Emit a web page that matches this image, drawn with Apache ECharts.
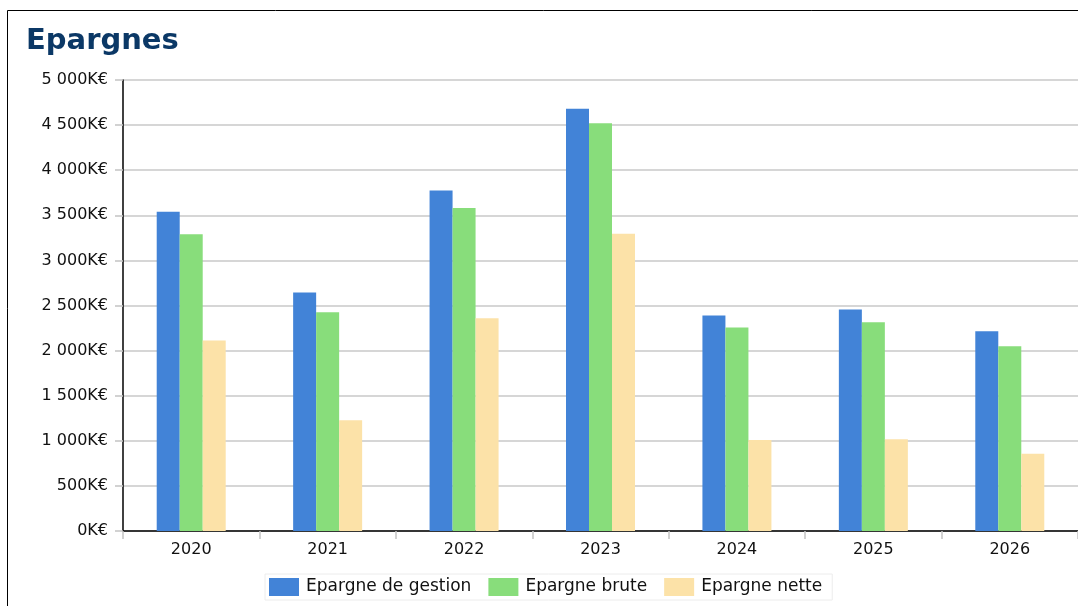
<!DOCTYPE html>
<html>
<head>
<meta charset="utf-8">
<script src="https://cdn.jsdelivr.net/npm/echarts@6/dist/echarts.min.js"></script>
<style>
  html, body { margin: 0; padding: 0; background: #fff; }
  #chart { width: 1078px; height: 606px; }
</style>
</head>
<body>
<div id="chart"></div>
<script>
// Savings by year, in thousands of euros
const years = ['2020', '2021', '2022', '2023', '2024', '2025', '2026'];
const epargneGestion = [3540, 2645, 3775, 4680, 2390, 2455, 2215];
const epargneBrute   = [3290, 2425, 3580, 4520, 2255, 2315, 2048];
const epargneNette   = [2112, 1227, 2360, 3296, 1010, 1016, 857];
const seriesNames = ['Epargne de gestion', 'Epargne brute', 'Epargne nette'];
const seriesColors = ['#4283d7', '#88dd7b', '#fce2a8'];

const fmtK = v => String(v).replace(/\B(?=(\d{3})+(?!\d))/g, ' ') + 'K€';

const chart = echarts.init(document.getElementById('chart'));

const makeBar = (name, data, color) => ({
  name, type: 'bar', data,
  barWidth: 23, barGap: '0%',
  itemStyle: { color }
});

chart.setOption({
  animation: false,
  textStyle: { fontFamily: 'DejaVu Sans' },
  title: {
    text: 'Epargnes',
    left: 21, top: 22,
    textStyle: { fontFamily: 'DejaVu Sans', fontWeight: 'bold', fontSize: 29, color: '#0b3866' }
  },
  graphic: [{
    type: 'rect',
    shape: { x: 7.5, y: 10.5, width: 1200, height: 800 },
    style: { fill: 'none', stroke: '#000', lineWidth: 1 },
    silent: true, z: 100
  }],
  legend: {
    bottom: 6, left: 265,
    data: seriesNames,
    icon: 'rect', itemWidth: 30, itemHeight: 18, itemGap: 17,
    padding: [4, 10, 4, 4],
    borderColor: '#ececec', borderWidth: 1,
    textStyle: { fontSize: 17, color: '#111', fontFamily: 'DejaVu Sans', padding: [0, 0, 0, 2] }
  },
  grid: { left: 123, right: 0, top: 80, bottom: 75, containLabel: false },
  xAxis: {
    type: 'category',
    data: years,
    axisLine: { lineStyle: { color: '#000', width: 1.5 } },
    axisTick: { show: true, length: 8, lineStyle: { color: '#c4c4c4', width: 1.5 } },
    axisLabel: { color: '#111', fontSize: 16, margin: 11 }
  },
  yAxis: {
    type: 'value',
    min: 0, max: 5000, interval: 500,
    axisLine: { show: true, lineStyle: { color: '#000', width: 1.5 } },
    axisTick: { show: true, length: 8, lineStyle: { color: '#c4c4c4', width: 1.5 } },
    axisLabel: { color: '#111', fontSize: 16, margin: 15, formatter: fmtK },
    splitLine: { lineStyle: { color: '#c8c8c8', width: 1.5 } }
  },
  series: [
    makeBar(seriesNames[0], epargneGestion, seriesColors[0]),
    makeBar(seriesNames[1], epargneBrute, seriesColors[1]),
    makeBar(seriesNames[2], epargneNette, seriesColors[2])
  ]
});
</script>
</body>
</html>
